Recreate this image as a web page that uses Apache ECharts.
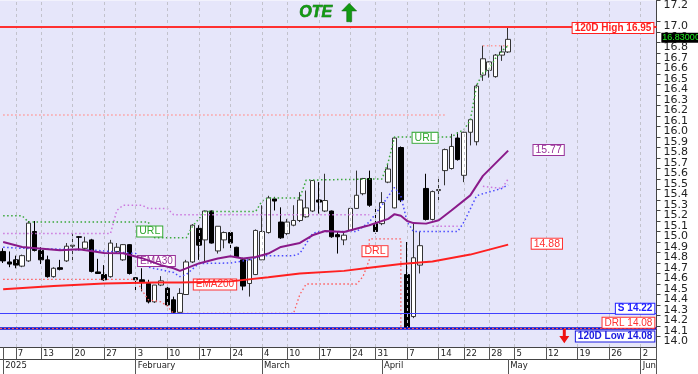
<!DOCTYPE html>
<html><head><meta charset="utf-8">
<script src="https://cdn.jsdelivr.net/npm/echarts@6/dist/echarts.min.js"></script>
<style>html,body{margin:0;padding:0;background:#fff}#c{width:698px;height:374px}</style>
</head><body><div id="c"></div>
<script>
// ---- categories (trading days, incl. empty future days) ----
const dates = [
'2025-01-02','2025-01-03','2025-01-07','2025-01-08','2025-01-09','2025-01-10',
'2025-01-13','2025-01-14','2025-01-15','2025-01-16','2025-01-17',
'2025-01-20','2025-01-21','2025-01-22','2025-01-23','2025-01-24',
'2025-01-27','2025-01-28','2025-01-29','2025-01-30','2025-01-31',
'2025-02-03','2025-02-04','2025-02-05','2025-02-06','2025-02-07',
'2025-02-10','2025-02-11','2025-02-12','2025-02-13','2025-02-14',
'2025-02-17','2025-02-18','2025-02-19','2025-02-20','2025-02-21',
'2025-02-24','2025-02-25','2025-02-26','2025-02-27','2025-02-28',
'2025-03-04','2025-03-05','2025-03-06','2025-03-07',
'2025-03-10','2025-03-11','2025-03-12','2025-03-13','2025-03-14',
'2025-03-17','2025-03-18','2025-03-19','2025-03-20','2025-03-21',
'2025-03-24','2025-03-25','2025-03-26','2025-03-27',
'2025-03-31','2025-04-01','2025-04-02','2025-04-03','2025-04-04',
'2025-04-07','2025-04-08','2025-04-09','2025-04-10','2025-04-11',
'2025-04-14','2025-04-15','2025-04-16','2025-04-17',
'2025-04-22','2025-04-23','2025-04-24','2025-04-25',
'2025-04-28','2025-04-29','2025-04-30','2025-05-02',
'2025-05-05','2025-05-06','2025-05-07','2025-05-08','2025-05-09',
'2025-05-12','2025-05-13','2025-05-14','2025-05-15','2025-05-16',
'2025-05-19','2025-05-20','2025-05-21','2025-05-22','2025-05-23',
'2025-05-26','2025-05-27','2025-05-28','2025-05-29','2025-05-30',
'2025-06-02','2025-06-03','2025-06-04'];
const weekStarts = ['2025-01-07','2025-01-13','2025-01-20','2025-01-27','2025-02-03','2025-02-10','2025-02-17','2025-02-24','2025-03-04','2025-03-10','2025-03-17','2025-03-24','2025-03-31','2025-04-07','2025-04-14','2025-04-22','2025-04-28','2025-05-05','2025-05-12','2025-05-19','2025-05-26','2025-06-02'];
const monthStarts = ['2025-01-02','2025-02-03','2025-03-04','2025-04-01','2025-05-02','2025-06-02'];
const monthNames = ['2025','February','March','April','May','Jun'];

// ---- OHLC ----
const open = [14.81,14.71,14.73,14.67,14.72,15.00,14.82,14.73,14.57,14.655,
 14.72,14.86,14.95,14.84,14.92,14.615,14.59,14.57,14.81,14.73,
 14.875,14.56,14.54,14.505,14.33,14.49,14.46,14.35,14.23,14.40,
 14.71,15.03,14.92,15.195,14.815,14.92,14.99,14.85,14.73,14.505,
 14.59,14.73,14.99,15.31,15.09,14.98,15.06,15.105,15.14,15.195,
 15.30,15.195,15.195,14.97,14.92,15.01,15.22,15.36,15.505,15.075,
 15.075,15.47,15.225,15.80,14.59,14.19,14.68,15.41,15.115,15.39,
 15.58,15.60,15.89,15.535,15.945,15.855,16.49,16.535,16.475,16.68,
 16.71];
const close = [14.72,14.69,14.68,14.77,15.08,14.82,14.73,14.57,14.65,14.64,
 14.86,14.87,14.945,14.90,14.62,14.60,14.54,14.89,14.85,14.875,
 14.60,14.54,14.52,14.33,14.49,14.53,14.30,14.23,14.41,14.71,
 15.06,14.87,15.195,14.89,15.05,14.99,14.89,14.76,14.48,14.73,
 15.01,15.00,15.32,15.29,14.94,15.09,15.105,15.30,15.225,15.485,
 15.28,15.295,14.95,14.95,14.965,15.22,15.345,15.505,15.25,15.00,
 15.275,15.595,15.89,15.30,14.085,14.75,14.865,15.115,15.38,15.40,
 15.78,15.81,15.685,15.945,16.065,16.385,16.645,16.615,16.68,16.71,
 16.83];
const low = [14.70,14.66,14.65,14.66,14.71,14.81,14.69,14.56,14.56,14.63,
 14.71,14.71,14.82,14.83,14.61,14.60,14.53,14.56,14.79,14.72,
 14.59,14.44,14.43,14.315,14.32,14.48,14.29,14.22,14.22,14.395,
 14.70,14.73,14.71,14.885,14.79,14.84,14.82,14.75,14.44,14.38,
 14.585,14.73,14.98,15.20,14.93,14.965,15.05,15.09,15.13,15.185,
 15.17,15.185,14.94,14.79,14.87,14.995,15.215,15.345,15.235,14.98,
 15.06,15.46,15.22,15.28,14.08,14.175,14.60,15.105,15.105,15.28,
 15.44,15.59,15.675,15.47,15.82,15.82,16.435,16.465,16.465,16.625,
 16.70];
const high = [14.84,14.81,14.77,14.78,15.10,15.10,14.85,14.77,14.66,14.73,
 14.89,14.98,14.955,14.95,14.93,14.74,14.68,14.92,14.89,14.88,
 14.88,14.565,14.65,14.54,14.49,14.575,14.475,14.38,14.46,14.73,
 15.07,15.06,15.20,15.20,15.05,15.00,15.00,14.855,14.75,14.74,
 15.02,15.25,15.34,15.33,15.23,15.12,15.25,15.375,15.39,15.49,
 15.47,15.55,15.20,15.00,15.00,15.225,15.58,15.51,15.58,15.22,
 15.375,15.645,15.90,15.81,14.90,15.075,15.00,15.55,15.39,15.50,
 15.79,15.93,15.945,15.95,16.07,16.40,16.77,16.62,16.69,16.77,
 16.95];

// ---- indicator lines [dayIndex, value] ----
const ema30 = [[0,14.90],[3,14.853],[9,14.822],[12,14.83],[16,14.796],[19,14.793],[22,14.746],[25,14.68],[27,14.65],[28,14.625],[31,14.696],[34,14.743],[36,14.765],[38,14.743],[40,14.758],[42,14.79],[44,14.853],[47,14.891],[49,14.964],[51,15.005],[54,14.995],[58,15.06],[61,15.12],[62,15.165],[63,15.15],[64,15.10],[65,15.08],[67,15.075],[69,15.107],[71,15.20],[74,15.344],[76,15.53],[80,15.77]];
const ema200 = [[0,14.45],[8,14.48],[16,14.505],[24,14.515],[28,14.515],[36,14.525],[42,14.565],[47,14.60],[54,14.625],[58,14.655],[63,14.69],[68,14.715],[74,14.78],[80,14.875]];
const bandLow = [[0,14.85],[3,14.84],[10,14.83],[15,14.82],[21,14.79],[23,14.66],[27,14.61],[28,14.57],[29,14.59],[31,14.695],[36,14.70],[39,14.73],[41,14.77],[46,14.77],[47,14.79],[49,14.98],[50,15.0],[56,15.0],[58,15.09],[60,15.25],[62,15.42],[63,15.34],[64,15.09],[65,15.0],[72,15.0],[73,15.09],[75,15.34],[76,15.36],[79,15.41],[80,15.445]];
const url = [[0,15.15],[3,15.15],[4,15.09],[23,15.09],[24,14.94],[29,14.94],[30,15.05],[32,15.19],[40,15.19],[41,15.29],[42,15.32],[47,15.32],[48,15.49],[60,15.50],[61,15.66],[62,15.90],[71,15.90],[72,15.94],[73,15.97],[74,16.06],[75,16.39],[76,16.51],[77,16.55],[78,16.65],[79,16.72],[80,16.77]];
const drl = [[0,14.545],[21,14.545],[22,14.44],[23,14.35],[25,14.33],[26,14.29],[27,14.22],[46,14.22],[47,14.40],[48,14.50],[56,14.50],[57,14.57],[58,14.73],[58,14.93],[63,14.93],[63,14.08]];
const bandMid = [[0,14.98],[17,14.98],[18,15.20],[19,15.25],[22,15.25],[23,15.22],[26,15.22],[27,15.16],[58,15.16],[58,'-'],[68,15.05],[72,15.05],[72,'-'],[76,15.43],[79,15.41],[80,15.50]];
const bandTop = [[0,16.11],[70,16.11],[70,'-'],[76,16.77],[80,16.77]];

// ---- levels ----
const high120 = 16.95, low120 = 14.08, support = 14.22, drlLevel = 14.08;

const weekSet = new Set(weekStarts);
const tickSet = new Set([dates[0]].concat(weekStarts));
const monthMap = {}; monthStarts.forEach((d,i)=>{monthMap[d]=monthNames[i];});
const candles = open.map((o,i)=>[o, close[i], low[i], high[i]]);
const lastIdx = dates.length - 1;

function box(text, color, bold, extra){
  return Object.assign({show:true, formatter:text, color:color, fontSize:10, fontFamily:'Arial',
    fontWeight: bold?'bold':'normal', backgroundColor:'#fff', borderColor:color, borderWidth:1,
    padding:[1,2,0,2], lineHeight:9}, extra||{});
}
function dotted(name, data, color, w){
  return {type:'line', name, data, showSymbol:false, symbol:'none', silent:true, z:4,
    connectNulls:false, lineStyle:{color, width:w||1.5, type:[1.5,2.5]}};
}

const chart = echarts.init(document.getElementById('c'), null, {width:698, height:374});
chart.setOption({
  animation:false,
  backgroundColor:'#ffffff',
  grid:{left:-1.87, right:41.5, top:0, bottom:27, show:true, backgroundColor:'#E6E6FA', borderWidth:0},
  xAxis:[{
    type:'category', data:dates, boundaryGap:true, position:'bottom',
    axisLine:{show:true, lineStyle:{color:'#444', width:1}},
    axisTick:{show:true, alignWithLabel:true, length:12, interval:(i,v)=>tickSet.has(v), lineStyle:{color:'#555'}},
    axisLabel:{interval:(i,v)=>weekSet.has(v), formatter:v=>String(parseInt(v.slice(8),10)),
      align:'left', padding:[0,0,0,2], margin:2, fontSize:8.5, fontFamily:'DejaVu Sans', color:'#222'},
    splitLine:{show:false}
  },{
    type:'category', data:dates, boundaryGap:true, position:'bottom', offset:12,
    axisLine:{show:true, lineStyle:{color:'#444', width:1}},
    axisTick:{show:true, alignWithLabel:true, length:15, interval:(i,v)=>!!monthMap[v], lineStyle:{color:'#555'}},
    axisLabel:{interval:(i,v)=>!!monthMap[v], formatter:v=>monthMap[v]||'',
      align:'left', padding:[0,0,0,2], margin:2, fontSize:8.5, fontFamily:'DejaVu Sans', color:'#222'},
    splitLine:{show:false}
  }],
  yAxis:{
    type:'value', position:'right', min:13.9, max:17.2, interval:0.1, scale:true,
    axisLine:{show:true, lineStyle:{color:'#444'}},
    axisTick:{show:true, length:4, lineStyle:{color:'#444'}},
    axisLabel:{fontSize:11, fontFamily:'DejaVu Sans', color:'#222', margin:7, showMinLabel:false, showMaxLabel:true,
      verticalAlign:'top', lineHeight:10, padding:[0,0,0,0], formatter:v=>v.toFixed(1)},
    splitLine:{show:false}
  },
  series:[
    {type:'line', name:'weekGrid', data:[], z:1, silent:true,
     markLine:{silent:true, symbol:['none','none'], label:{show:false}, animation:false,
       lineStyle:{color:'#c2c2cc', width:1, type:[3,3]},
       data: weekStarts.map(d=>({xAxis:d}))}},
    {type:'candlestick', name:'OTE', data:candles, barWidth:5, z:3,
     itemStyle:{color:'#ffffff', color0:'#000000', borderColor:'#333333', borderColor0:'#000000', borderWidth:1},
     markLine:{silent:true, symbol:['none','none'], label:{show:false}, animation:false,
       data:[
         {yAxis:high120, lineStyle:{color:'#ff3030', width:2, type:'solid'}},
         {yAxis:support, lineStyle:{color:'#4040ff', width:1, type:'solid'}},
         {yAxis:low120, lineStyle:{color:'#1010c8', width:2.5, type:'solid'}},
         {yAxis:drlLevel, lineStyle:{color:'#ff5050', width:1, type:[2,2]}}
       ]},
     markPoint:{symbol:'circle', symbolSize:0, silent:true, animation:false,
       data:[
         {coord:[lastIdx, high120], label:box('120D High '+high120.toFixed(2), '#ff2020', true, {position:'left', distance:0, offset:[0,1.3]})},
         {coord:[lastIdx, support], label:box('S '+support.toFixed(2), '#2020ff', true, {position:'left', distance:0, offset:[1,-4.7]})},
         {coord:[lastIdx, drlLevel], label:box('DRL '+drlLevel.toFixed(2), '#ff3030', false, {position:'left', distance:0, offset:[1,-5.3]})},
         {coord:[lastIdx, low120], label:box('120D Low '+low120.toFixed(2), '#1a1ae0', true, {position:'left', distance:0, offset:[1,8.4]})},
         {coord:[lastIdx, close[close.length-1]], label:{show:true, position:'right', distance:8, offset:[0,-1.7],
            formatter:close[close.length-1].toFixed(5), color:'#22ee22', backgroundColor:'#000', fontSize:9, fontFamily:'Arial', padding:[1,1,0,1], lineHeight:9}}
       ]}
    },
    dotted('bandTop', bandTop, '#ff9c9c', 1.5),
    dotted('bandMid', bandMid, '#cc77dd', 1.5),
    dotted('bandLow', bandLow, '#4a4aff', 1.5),
    Object.assign(dotted('DRL', drl, '#ff5a5a', 1.3), {markPoint:{symbol:'circle', symbolSize:0, silent:true,
       data:[{coord:[59,14.813], label:box('DRL','#ff3030',false,{position:'inside', offset:[-0.6,0], fontSize:10.5})}]}}),
    Object.assign(dotted('URL', url, '#3aa83a', 1.5), {markPoint:{symbol:'circle', symbolSize:0, silent:true,
       data:[{coord:[23,15.0], label:box('URL','#33a833',false,{position:'inside', offset:[1.4,0], fontSize:10.5})},
             {coord:[67,15.892], label:box('URL','#33a833',false,{position:'inside', offset:[-1,0], fontSize:10.5})}]}}),
    {type:'line', name:'EMA200', data:ema200, showSymbol:false, symbol:'none', silent:true, z:5,
     lineStyle:{color:'#ff2020', width:2},
     markPoint:{symbol:'circle', symbolSize:0, silent:true,
       data:[{coord:[34,14.496], label:box('EMA200','#ff3030',false,{position:'inside', offset:[-2.8,0]})},
             {coord:[86,14.884], label:box('14.88','#ff3030',false,{position:'inside', offset:[0.8,0], fontSize:10.5})}]}},
    {type:'line', name:'EMA30', data:ema30, showSymbol:false, symbol:'none', silent:true, z:5,
     lineStyle:{color:'#8a1a8a', width:2},
     markPoint:{symbol:'circle', symbolSize:0, silent:true,
       data:[{coord:[24,14.72], label:box('EMA30','#993399',false,{position:'inside', offset:[1.8,0]})},
             {coord:[86,15.776], label:box('15.77','#993399',false,{position:'inside', offset:[2.6,0], fontSize:10.5})}]}}
  ],
  graphic:[
    {type:'text', left:299, top:4, z:100, style:{text:'OTE', font:'italic bold 16px Arial', fill:'#129a12', stroke:'#0b5e0b', lineWidth:0.6}},
    {type:'polygon', z:100, shape:{points:[[349.2,3.3],[356.7,11],[351.7,11],[351.7,21.7],[346.7,21.7],[346.7,11],[341.7,11]]}, style:{fill:'#129a12', stroke:'#0b5e0b', lineWidth:0.5}},
    {type:'polygon', z:100, shape:{points:[[562.8,329],[565.8,329],[565.8,336],[569.3,336],[564.3,343.3],[559.3,336],[562.8,336]]}, style:{fill:'#ee1111'}},
    {type:'line', z:100, shape:{x1:656.5, y1:347, x2:656.5, y2:374}, style:{stroke:'#555', lineWidth:1}}
  ]
});
</script></body></html>
